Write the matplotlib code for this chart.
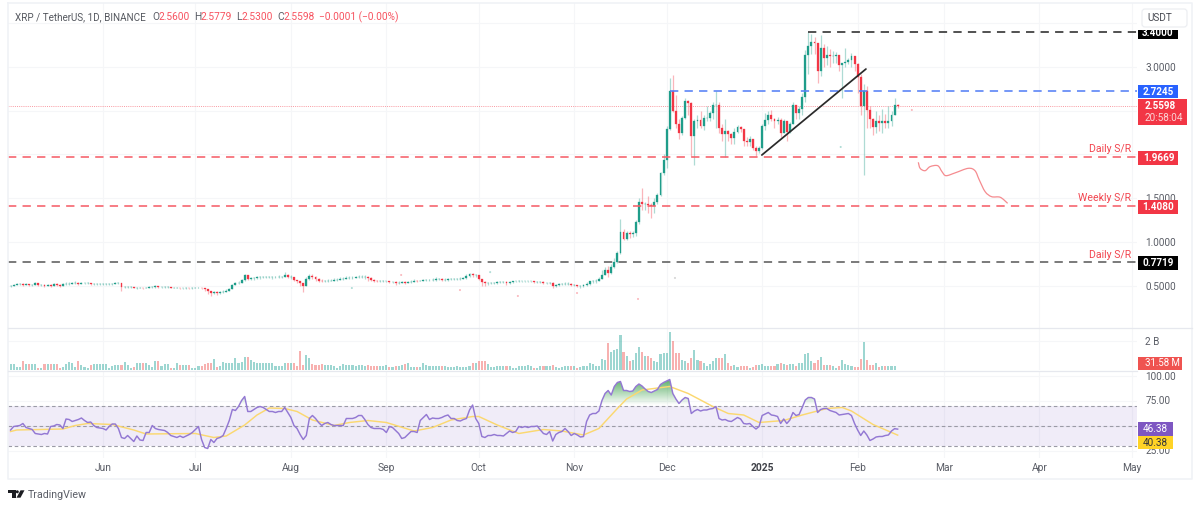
import numpy as np
import matplotlib
matplotlib.use("Agg")
import matplotlib.pyplot as plt
from matplotlib.patches import Rectangle, FancyBboxPatch, Polygon, Circle, PathPatch
from matplotlib.path import Path

plt.rcParams['font.family'] = ['Roboto', 'DejaVu Sans']

# ---------- data ----------
close = [
 .50,.51,.52,.52,.51,.52,.51,.51,.53,.51,.51,.50,.51,.50,.52,.51,.50,.52,.52,.52,.53,.53,.52,.53,.53,.53,.52,.52,.52,.52,
 .52,.52,.52,.52,.53,.53,.49,.49,.49,.49,.48,.48,.48,.47,.48,.49,.49,.50,.49,.49,.49,.49,.48,.48,.48,.47,.47,.48,.47,.47,
 .48,.48,.47,.46,.44,.42,.43,.42,.43,.43,.44,.46,.51,.53,.53,.57,.62,.58,.59,.59,.60,.60,.60,.60,.60,.60,.60,.60,.60,.62,.60,
 .60,.57,.55,.53,.50,.58,.61,.60,.58,.56,.55,.55,.56,.56,.57,.57,.58,.58,.59,.59,.59,.60,.60,.60,.60,.59,.57,.56,.55,.55,.55,
 .55,.54,.54,.53,.53,.54,.53,.54,.54,.56,.55,.56,.57,.57,.57,.57,.58,.58,.57,.57,.58,.58,.58,.58,.58,.59,.61,.63,.62,.62,
 .58,.54,.53,.53,.53,.53,.54,.54,.54,.53,.54,.55,.55,.55,.55,.55,.55,.55,.54,.54,.54,.53,.53,.53,.50,.51,.52,.52,.52,.52,.51,
 .51,.50,.50,.51,.52,.55,.55,.56,.58,.62,.68,.65,.72,.77,.88,1.11,1.04,1.10,1.09,1.10,1.23,1.46,1.43,1.43,1.42,1.41,1.46,1.54,1.79,1.94,
 2.29,2.73,2.50,2.35,2.24,2.42,2.61,2.59,2.21,2.38,2.39,2.33,2.42,2.42,2.47,2.57,2.57,2.30,2.23,2.27,2.23,2.19,2.26,2.32,2.29,2.15,2.14,2.18,2.08,2.04,2.08,
 2.33,2.40,2.45,2.41,2.38,2.40,2.25,2.38,2.26,2.35,2.57,2.48,2.52,2.66,3.14,3.24,3.29,3.27,2.95,3.22,3.10,3.14,3.12,3.12,3.14,3.02,3.05,3.06,3.08,3.13,3.03,
 2.89,2.56,2.72,2.51,2.41,2.32,2.38,2.36,2.38,2.36,2.38,2.45,2.56,2.5598]

high = [
 .51,.52,.53,.53,.53,.53,.52,.52,.54,.53,.52,.52,.52,.52,.53,.53,.52,.53,.54,.54,.54,.55,.54,.54,.54,.54,.53,.53,.53,.53,
 .53,.53,.53,.53,.54,.54,.53,.50,.50,.50,.49,.49,.49,.48,.49,.50,.50,.51,.50,.50,.50,.50,.49,.49,.49,.48,.48,.49,.48,.49,
 .49,.49,.48,.48,.46,.44,.44,.44,.44,.45,.46,.47,.52,.54,.55,.58,.64,.62,.60,.60,.61,.61,.61,.61,.61,.61,.61,.62,.61,.66,.63,
 .62,.60,.57,.55,.53,.60,.63,.63,.61,.59,.58,.57,.58,.58,.59,.59,.60,.60,.61,.61,.61,.61,.62,.62,.62,.61,.60,.58,.57,.57,.57,
 .56,.56,.56,.55,.55,.55,.55,.56,.57,.58,.57,.57,.58,.58,.58,.59,.60,.59,.59,.59,.59,.59,.59,.59,.60,.60,.63,.65,.65,.64,
 .62,.58,.55,.54,.54,.54,.55,.55,.55,.55,.55,.56,.56,.57,.56,.56,.56,.56,.56,.55,.55,.55,.54,.54,.54,.52,.53,.53,.54,.54,.53,
 .52,.51,.51,.52,.54,.56,.57,.58,.60,.68,.72,.73,.75,.82,.90,1.26,1.15,1.12,1.12,1.13,1.25,1.50,1.62,1.46,1.53,1.45,1.50,1.56,1.80,2.00,
 2.32,2.87,2.91,2.68,2.40,2.44,2.65,2.62,2.60,2.40,2.45,2.50,2.45,2.55,2.50,2.60,2.73,2.60,2.35,2.40,2.28,2.24,2.30,2.34,2.33,2.25,2.20,2.21,2.15,2.10,2.10,
 2.35,2.47,2.50,2.51,2.42,2.43,2.42,2.40,2.35,2.37,2.60,2.52,2.55,2.70,3.19,3.40,3.38,3.34,3.20,3.37,3.26,3.24,3.20,3.18,3.17,3.10,3.05,3.22,3.10,3.16,3.10,
 3.05,2.92,2.80,2.78,2.55,2.42,2.50,2.45,2.52,2.46,2.55,2.50,2.64,2.5779]

low = [
 .49,.50,.51,.51,.50,.51,.50,.50,.51,.50,.50,.49,.50,.49,.50,.50,.49,.50,.51,.51,.52,.52,.51,.52,.52,.52,.51,.51,.51,.51,
 .51,.51,.51,.51,.52,.52,.44,.48,.48,.48,.47,.46,.47,.46,.47,.47,.48,.48,.48,.48,.48,.47,.47,.47,.47,.46,.46,.46,.46,.46,
 .47,.47,.46,.44,.41,.38,.41,.40,.41,.42,.43,.44,.46,.51,.52,.53,.56,.57,.57,.57,.58,.58,.59,.59,.59,.58,.59,.59,.59,.60,.59,
 .58,.55,.53,.50,.43,.50,.57,.58,.56,.54,.54,.54,.54,.55,.56,.56,.57,.57,.58,.58,.58,.59,.59,.59,.58,.56,.55,.54,.54,.54,.54,
 .54,.53,.53,.51,.52,.53,.52,.53,.53,.54,.54,.55,.55,.56,.55,.55,.56,.57,.56,.56,.56,.57,.57,.57,.57,.58,.58,.60,.60,.60,
 .57,.50,.50,.51,.52,.52,.52,.53,.53,.51,.52,.53,.54,.54,.54,.54,.54,.54,.53,.53,.53,.52,.52,.52,.48,.49,.50,.51,.51,.51,.50,
 .50,.49,.48,.49,.50,.51,.53,.53,.55,.58,.62,.60,.64,.70,.76,.86,1.02,1.02,1.05,1.06,1.07,1.21,1.36,1.37,1.33,1.28,1.33,1.43,1.52,1.76,
 1.84,2.28,2.48,2.30,2.18,2.22,2.40,2.45,1.98,1.88,2.30,2.30,2.28,2.38,2.38,2.40,2.30,2.25,2.15,1.97,2.15,2.12,2.12,2.25,2.26,2.10,2.10,2.10,2.05,1.98,2.02,
 2.06,2.28,2.35,2.38,2.30,2.35,2.20,2.25,2.15,2.25,2.35,2.40,2.40,2.45,2.60,2.92,3.15,3.15,2.82,2.90,3.00,3.02,3.00,3.05,3.05,2.95,2.65,3.00,3.03,3.00,2.95,
 2.70,2.45,1.77,2.30,2.30,2.22,2.25,2.27,2.25,2.30,2.30,2.32,2.45,2.53]

volume_b = [
 .41,.41,.2,.2,.64,.44,.41,.41,.41,.14,.14,.41,.41,.41,.41,.41,.14,.2,.44,.57,.5,.2,.64,.35,.2,.14,.35,.39,.39,.39,
 .39,.39,.14,.28,.33,.35,.35,.57,.33,.14,.2,.46,.46,.46,.5,.35,.2,.64,.64,.28,.42,.42,.14,.14,.5,.35,.35,.35,.35,.14,
 .14,.28,.28,.39,.46,.5,.75,.2,.28,.57,.5,.46,.46,.8,.46,.57,.87,.87,.69,.57,.46,.46,.46,.5,.5,.5,.25,.25,.25,.5,.5,
 .5,.46,.25,1.3,.33,1.03,.8,.44,.33,.33,.38,.33,.35,.33,.3,.14,.3,.44,.35,.35,.35,.3,.35,.33,.3,.35,.3,.3,.3,.3,.3,
 .33,.2,.2,.25,.3,.35,.4,.45,.18,.18,.2,.2,.45,.35,.3,.3,.25,.3,.3,.25,.22,.22,.22,.25,.2,.2,.2,.25,.5,.5,
 .64,.64,.64,.41,.18,.18,.28,.28,.28,.28,.28,.14,.14,.28,.28,.28,.33,.28,.14,.14,.28,.28,.28,.28,.33,.2,.14,.2,.25,.25,.25,
 .28,.14,.2,.25,.25,.5,.4,.3,.25,.75,.7,1.84,1.25,1.4,1.45,2.4,1.25,1.0,.65,.7,1.15,1.6,1.25,1.0,.95,.85,.6,.55,1.1,1.2,
 1.2,2.6,2.0,1.2,1.15,.7,.6,.5,.8,1.4,.7,.6,.5,.25,.4,.6,.8,.85,.85,1.1,.5,.3,.35,.2,.28,.3,.28,.14,.22,.35,.35,
 .4,.28,.25,.25,.25,.4,.45,.4,.35,.38,.4,.3,.5,.45,1.1,1.15,.6,.5,.7,.9,.35,.35,.35,.25,.14,.25,.7,.4,.35,.25,.2,
 .2,.75,1.9,.7,.35,.35,.5,.2,.25,.25,.25,.25,.25,.03158]

rsi = [
 45.5,49,49.5,50,52,48,47,46,42,41.5,41,42,41.5,49,49.5,51,50.5,47,56.5,56,54,55,56,57.5,55,53,53.5,50,48,47.5,
 47,45.5,49,51.5,51.5,47,38,37,40,37,34,39.5,35.5,35,43,43,50,47,46,45.5,45,43,40,39,38,39.5,38,39.5,41,43,
 46,49,36,28,27,36,33,37,38,40,47,55,66,65,69,75,79,64,64,66,68,69,68,66,64,64,63,64,64,68,63,
 58,50,47,41,36,40,57,60,57,53,50,52,53,51,50,50,50,50,57,57,57,58,60,60,56,51,48,47,47,47,46,
 43,49,48,45,42,37,38,41,44,44,43,55,58,61,56,57.5,57,57,58,59.5,60.5,57,57,55,54.5,56,57,65.5,70.5,57,
 52,39,38,40,40,41,40,40,39.5,42,44.5,43,44,49,48,49,48,49,49,49.5,45.5,42,41,44,34.5,41,43,44,47,44,40,
 42,40.5,38.5,39,54,60.5,62,62,64.5,75,82,85,80.5,89,93,94,85,85,84,84.5,89,91.5,89.5,86.5,84,83,84.5,86,91,93,
 94.5,96,82,76.5,72,75.5,78,77,62,64.5,66,64.5,65.5,65.5,66.5,67,69,57,55.5,56,54.5,54,56,58,56.5,52,51.5,52,49,46.5,49,
 60,61.5,63,60.5,60,59,52,56.5,52,55.5,63,60,61,68,75.5,78,78,76.5,63,66,67,67,65,64,63,60.5,61,61.5,62,60,52,
 45.5,40,44.5,40.5,35,36.5,38.5,39,39,40,40.5,44.5,46.8,46.38]

rsi_ma_day = [0,2,17,21,25,33,40,44,60,66,70,76,80,84,89,93,98,105,110,116,122,131,137,143,150,152,158,165,173,179,186,191,197,200,205,214,220,228,233,238,243,251,257,265,270,273,280,288]
rsi_ma = [44,45.5,46.5,50,52,51,45.5,41.5,42,38,39.5,50.5,60.5,67.5,67,64,55.5,50,53,55,53,44.5,48,55.5,59,59,50.5,42,46,44.5,40.5,47,67,76.5,85.5,89,82,69,62,60.5,53,55,60.5,67,68,64.5,51,40.38]

month_days = [30,60,91,122,152,183,213,244,275,303,334,364]
month_names = ['Jun','Jul','Aug','Sep','Oct','Nov','Dec','2025','Feb','Mar','Apr','May']

price_ticks = [0.5,1.0,1.5,2.0,2.5,3.0,3.5]
price_tick_labels = ['0.5000','1.0000','1.5000','','','3.0000','']
res_34, res_272, sr_197, sr_141, sr_077, last_price = 3.4, 2.7245, 1.9669, 1.408, 0.7719, 2.5598
start_34, start_272 = 259, 214

trend_day, trend_price = [243.9, 277.7], [1.994, 2.977]
sketch_day = [294.7,295.3,296.9,298.5,301,302.4,303.7,306.8,310.9,313.1,314.5,316.4,318.5,321.3,323.7]
sketch_price = [1.911,1.842,1.815,1.861,1.872,1.803,1.758,1.792,1.842,1.815,1.709,1.575,1.518,1.511,1.442]

speck_day = [110.8,126.8,145.9,155.7,164.7,183.9,203.7,215.7,269.5,292.6]
speck_price = [.474,.623,.451,.656,.383,.417,.349,.589,2.086,2.509]
speck_color = ['#1f9d8a','#f23645','#f23645','#1f9d8a','#f23645','#f23645','#f23645','#888888','#1f9d8a','#f23645']

assert len(close)==len(high)==len(low)==len(volume_b)==len(rsi)==289
assert len(rsi_ma_day)==len(rsi_ma)

# ---------- layout ----------
W, H = 1200, 509
UP, DOWN = '#1f9d8a', '#f23645'
GRID = '#f5f6f8'
TXT = '#5a5d66'
fig = plt.figure(figsize=(W/100, H/100), dpi=100, facecolor='white')

def pane(top, bottom, left=8, right=1137):
    return fig.add_axes([left/W, 1-bottom/H, (right-left)/W, (bottom-top)/H])

ax = pane(3, 328); axv = pane(328, 370); axr = pane(371, 458)
x = np.arange(len(close))
XL = (-0.84, 365.7)
for a in (ax, axv, axr):
    a.set_xlim(*XL)
    a.set_xticks(month_days)
    a.grid(True, color=GRID, lw=0.8)
    a.set_axisbelow(True)
    a.tick_params(length=0, labelbottom=False, labelleft=False, labelright=True,
                  left=False, right=False, labelsize=7.2, labelcolor=TXT, pad=6)
    for s in a.spines.values():
        s.set_visible(False)
    a.yaxis.tick_right()

# ---------- candles ----------
c = np.array(close); o = np.r_[c[0], c[:-1]]; o[-1] = 2.56
h = np.maximum(np.array(high), np.maximum(o, c)); l = np.minimum(np.array(low), np.minimum(o, c))
up = c >= o
col = np.where(up, UP, DOWN)
ax.vlines(x, l, h, colors=col, lw=0.9, alpha=0.36, zorder=2)
ax.bar(x, np.abs(c-o), bottom=np.minimum(o, c), width=0.62, color=col, edgecolor=col, lw=0.2, zorder=3)
ax.scatter(speck_day, speck_price, s=2.2, c=speck_color, alpha=0.35, lw=0, zorder=2)
ax.set_ylim((329.5-328)/87.5, (329.5-3)/87.5)
ax.set_yticks(price_ticks)
ax.set_yticklabels(price_tick_labels)

dash = dict(lw=1.15, dash_capstyle='butt', zorder=4)
pat = (0, (5.2, 3.9))
ax.plot([start_34, XL[1]], [res_34]*2, color='#2a2a2a', ls=pat, **dash)
ax.plot([start_272, XL[1]], [res_272]*2, color='#5580f6', ls=pat, **dash)
ax.plot(XL, [sr_197]*2, color='#f55f69', ls=pat, **dash)
ax.plot(XL, [sr_141]*2, color='#f55f69', ls=pat, **dash)
ax.plot(XL, [sr_077]*2, color='#5c5c5c', ls=pat, **dash)
ax.plot(XL, [last_price]*2, color='#f23645', lw=0.7, ls=(0, (1, 1.2)), alpha=0.5, zorder=1.5)
ax.plot(trend_day, trend_price, color='#2a2a2a', lw=1.25, zorder=5, solid_capstyle='round')

# hand-drawn stroke: read points joined with a smooth curve for display only
sd, sp = np.array(sketch_day), np.array(sketch_price)
P = np.c_[sd, sp]
P2 = np.vstack([P[0], P, P[-1]])
verts = [tuple(P[0])]; codes = [Path.MOVETO]
for k in range(1, len(P2)-2):
    verts += [tuple(P2[k]+(P2[k+1]-P2[k-1])/6), tuple(P2[k+1]-(P2[k+2]-P2[k])/6), tuple(P2[k+1])]
    codes += [Path.CURVE4]*3
ax.add_patch(PathPatch(Path(verts, codes), fc='none', ec='#f58b8f', lw=0.9, zorder=5))

# ---------- volume ----------
axv.bar(x, volume_b, width=0.68, color=np.where(up, '#26a69a', '#ef5350'), alpha=0.45, zorder=2)
axv.set_ylim(0, 42/14.5)
axv.set_yticks([2.0]); axv.set_yticklabels(['2 B'])

# ---------- RSI ----------
r = np.array(rsi)
axr.axhspan(30, 70, color='#7e57c2', alpha=0.11, lw=0, zorder=1)
for lv in (70, 50, 30):
    axr.axhline(lv, color='#9b9ba6', lw=0.8, ls=(0, (3.2, 2.4)), zorder=1.5)
fx = np.linspace(0, 288, 2881); fy = np.interp(fx, x, r)
poly = axr.fill_between(fx, 70, fy, where=fy > 70, color='none', lw=0)
comp = Path.make_compound_path(*poly.get_paths())
grad = np.zeros((128, 2, 4)); grad[..., 0] = 0.22; grad[..., 1] = 0.62; grad[..., 2] = 0.28
grad[..., 3] = np.linspace(0.0, 0.85, 128)[:, None]
im = axr.imshow(grad, origin='lower', extent=[0, 288, 70, 97], aspect='auto', zorder=2)
clip = PathPatch(comp, transform=axr.transData, fc='none', ec='none'); axr.add_patch(clip)
im.set_clip_path(clip)
axr.plot(rsi_ma_day, rsi_ma, color='#fbd870', lw=1.05, zorder=3)
axr.plot(x, r, color='#9378d3', lw=1.05, zorder=4, solid_joinstyle='round')
axr.set_xlim(*XL)
axr.set_ylim(50-32.5, 50+54.5)
axr.set_yticks([25, 50, 75, 100]); axr.set_yticklabels(['25.00', '50.00', '75.00', '100.00'])

# ---------- pixel overlay for chart furniture ----------
ov = fig.add_axes([0, 0, 1, 1], zorder=20, facecolor='none')
ov.set_xlim(0, W); ov.set_ylim(H, 0); ov.axis('off')
ov.plot([8, 1192, 1192, 8, 8], [3, 3, 479, 479, 3], color='#f0f2f6', lw=1.2)
ov.plot([8, 1192], [328, 328], color='#e6e8ee', lw=0.9)
ov.plot([8, 1137], [370.5, 370.5], color='#e6e8ee', lw=0.9)

def T(px, py, s, color=TXT, size=7.2, ha='left', **kw):
    return ov.text(px, py, s, color=color, fontsize=size, ha=ha, va='center', **kw)

def box(x0, y0, x1, y1, fc, alpha=1.0):
    ov.add_patch(Rectangle((x0, y0), x1-x0, y1-y0, fc=fc, ec='none', alpha=alpha))

# month labels
for d, n in zip(month_days, month_names):
    T(10.6+3.08*d, 468, n, color='#3f4148' if n == '2025' else TXT, ha='center', size=7.4,
      fontweight='bold' if n == '2025' else 'normal')
box(1137, 459, 1191, 478, 'white')

# header
RED = '#f7525f'
T(15, 17, 'XRP / TetherUS, 1D, BINANCE', color='#55585f', size=7.1)
for px, s, cc in [(152,'O',TXT),(158.5,'2.5600',RED),(194,'H',TXT),(200.5,'2.5779',RED),(236,'L',TXT),
                  (241.5,'2.5300',RED),(277,'C',TXT),(283,'2.5598',RED),(319,'\u22120.0001 (\u22120.00%)',RED)]:
    T(px, 17, s, color=cc, size=7.3)

# USDT button
ov.add_patch(FancyBboxPatch((1142, 9), 45, 18, boxstyle='round,pad=0,rounding_size=3', fc='white', ec='#eceef2', lw=0.9))
T(1159.5, 18, 'USDT', color='#4a4c54', ha='center')

# price boxes
BS = 7.1
box(1138, 30, 1178, 39, '#000000')
t = T(1158, 33, '3.4000', color='white', ha='center', fontweight='bold', size=BS)
t.set_clip_path(Rectangle((1138, 30), 40, 9, transform=ov.transData))
box(1138, 85, 1178, 98, '#2962ff'); T(1158.5, 91.5, '2.7245', color='white', ha='center', fontweight='bold', size=BS)
box(1138, 99, 1187, 125, '#f23645'); T(1145, 106, '2.5598', color='white', fontweight='bold', size=BS)
T(1145, 118, '20:58:04', color='#fbd3d6', size=7.2)
box(1138, 151, 1178, 165, '#f23645'); T(1158.5, 158, '1.9669', color='white', ha='center', fontweight='bold', size=BS)
box(1138, 200, 1178, 214, '#f23645'); T(1158.5, 207, '1.4080', color='white', ha='center', fontweight='bold', size=BS)
box(1138, 256, 1178, 270, '#000000'); T(1158.5, 263, '0.7719', color='white', ha='center', fontweight='bold', size=BS)
T(1131, 149, 'Daily S/R', color='#f2454f', ha='right', size=7.6)
T(1131, 198, 'Weekly S/R', color='#f2454f', ha='right', size=7.6)
T(1131, 255, 'Daily S/R', color='#f2454f', ha='right', size=7.6)

# pane value boxes
box(1138, 357, 1182, 370, '#ef5350'); T(1145, 363.5, '31.58 M', color='white', size=6.9)
box(1138, 422, 1173, 436, '#7e57c2'); T(1155.5, 429, '46.38', color='white', ha='center')
box(1138, 436, 1173, 449, '#ffd326'); T(1155.5, 442.5, '40.38', color='#33343a', ha='center')

# logo
LOGO = '#1c1d22'
ov.add_patch(Polygon([(8,490.3),(15.5,490.3),(15.5,497.7),(11.5,497.7),(11.5,493),(8,493)], fc=LOGO, ec='none'))
ov.add_patch(Circle((17.3,491.8), 1.5, fc=LOGO, ec='none'))
ov.add_patch(Polygon([(20.5,490.3),(24.5,490.3),(20.5,497.7),(16.5,497.7)], fc=LOGO, ec='none'))
T(28, 494.5, 'TradingView', color='#5a5d66', size=7.7)

fig.savefig('out.png', dpi=100)
